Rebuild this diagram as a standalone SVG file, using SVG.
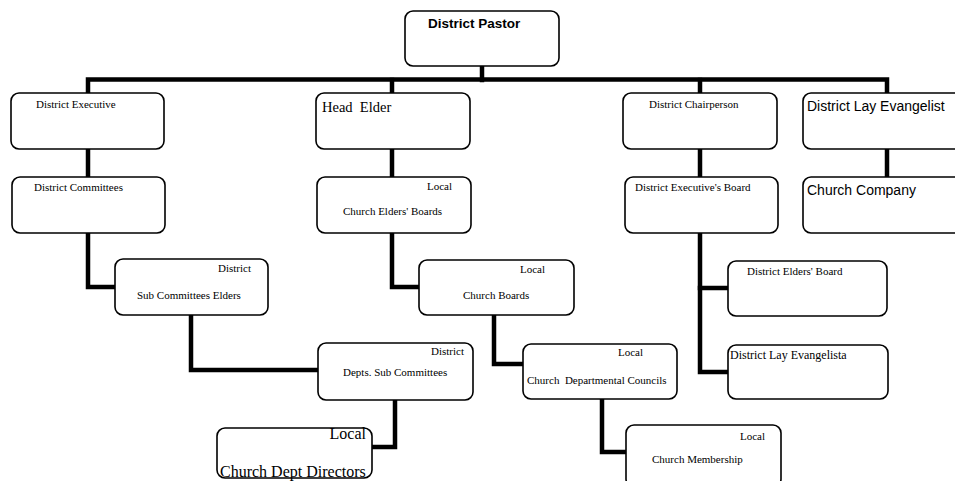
<svg xmlns="http://www.w3.org/2000/svg" width="955" height="481" viewBox="0 0 955 481">
<style>
.box{fill:#fff;stroke:#000;stroke-width:1.6}
.conn{fill:none;stroke:#000;stroke-width:4.5;stroke-linejoin:miter;stroke-linecap:square}
.s{font-family:"Liberation Serif",serif;font-size:11px;fill:#000}
.m{font-family:"Liberation Serif",serif;font-size:12px;fill:#000}
.l{font-family:"Liberation Serif",serif;font-size:14.5px;fill:#000}
.xl{font-family:"Liberation Serif",serif;font-size:16px;fill:#000}
.g{font-family:"Liberation Sans",sans-serif;font-size:14px;fill:#000}
.b{font-family:"Liberation Sans",sans-serif;font-size:13.5px;font-weight:bold;fill:#000}
</style>
<rect width="955" height="481" fill="#fff"/>
<g id="connectors">
<path class="conn" d="M482 66 V80"/>
<path class="conn" d="M88 93 V79.5 H887 V93"/>
<path class="conn" d="M392 80 V93"/>
<path class="conn" d="M700 80 V93"/>
<path class="conn" d="M88 149 V177"/>
<path class="conn" d="M88 233 V287 H115"/>
<path class="conn" d="M392 149 V177"/>
<path class="conn" d="M392 233 V287 H419"/>
<path class="conn" d="M700 149 V177"/>
<path class="conn" d="M700 233 V372 H728"/>
<path class="conn" d="M700 288 H728"/>
<path class="conn" d="M887 149 V177"/>
<path class="conn" d="M191 315 V370 H318"/>
<path class="conn" d="M494 315 V364 H523"/>
<path class="conn" d="M395 400 V447 H372"/>
<path class="conn" d="M602 399 V452 H626"/>
</g>
<g id="district-pastor"><rect class="box" x="405" y="11" width="154" height="55" rx="8"/><text class="b" x="428" y="28">District Pastor</text></g>
<g id="district-executive"><rect class="box" x="11" y="93" width="153" height="56" rx="8"/><text class="s" x="36" y="108">District Executive</text></g>
<g id="head-elder"><rect class="box" x="316" y="93" width="154" height="56" rx="8"/><text class="l" x="322" y="112" xml:space="preserve">Head  Elder</text></g>
<g id="district-chairperson"><rect class="box" x="623" y="93" width="154" height="56" rx="8"/><text class="s" x="649" y="108">District Chairperson</text></g>
<g id="district-lay-evangelist"><rect class="box" x="803" y="93" width="165" height="56" rx="8"/><text class="g" x="807" y="111">District Lay Evangelist</text></g>
<g id="district-committees"><rect class="box" x="12" y="177" width="153" height="56" rx="8"/><text class="s" x="34" y="191">District Committees</text></g>
<g id="church-elders-boards"><rect class="box" x="317" y="177" width="154" height="56" rx="8"/><text class="s" x="427" y="190">Local</text><text class="s" x="343" y="215">Church Elders' Boards</text></g>
<g id="district-executives-board"><rect class="box" x="625" y="177" width="153" height="56" rx="8"/><text class="s" x="635" y="191">District Executive's Board</text></g>
<g id="church-company"><rect class="box" x="803" y="177" width="165" height="56" rx="8"/><text class="g" x="807" y="195">Church Company</text></g>
<g id="sub-committees-elders"><rect class="box" x="115" y="259" width="153" height="56" rx="8"/><text class="s" x="218" y="272">District</text><text class="s" x="137" y="299">Sub Committees Elders</text></g>
<g id="church-boards"><rect class="box" x="419" y="260" width="155" height="55" rx="8"/><text class="s" x="520" y="273">Local</text><text class="s" x="463" y="299">Church Boards</text></g>
<g id="district-elders-board"><rect class="box" x="728" y="261" width="159" height="55" rx="8"/><text class="s" x="747" y="275">District Elders' Board</text></g>
<g id="depts-sub-committees"><rect class="box" x="318" y="343" width="155" height="57" rx="8"/><text class="s" x="464" y="355" text-anchor="end">District</text><text class="s" x="343" y="376">Depts. Sub Committees</text></g>
<g id="church-departmental-councils"><rect class="box" x="523" y="344" width="154" height="55" rx="8"/><text class="s" x="618" y="356">Local</text><text class="s" x="527" y="384" xml:space="preserve">Church  Departmental Councils</text></g>
<g id="district-lay-evangelista"><rect class="box" x="728" y="345" width="160" height="54" rx="8"/><text class="m" x="730" y="359">District Lay Evangelista</text></g>
<g id="church-dept-directors"><rect class="box" x="217" y="428" width="155" height="50" rx="8"/><text class="xl" x="366" y="439" text-anchor="end">Local</text><text class="xl" x="220" y="477">Church Dept Directors</text></g>
<g id="church-membership"><rect class="box" x="626" y="425" width="155" height="62" rx="8"/><text class="s" x="740" y="440">Local</text><text class="s" x="652" y="463">Church Membership</text></g>
</svg>
